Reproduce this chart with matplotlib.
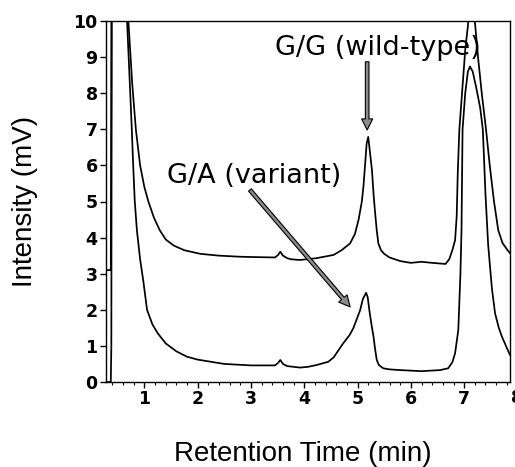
import matplotlib
matplotlib.use("Agg")
import matplotlib.pyplot as plt
import numpy as np

# chromatogram traces (min, mV)
gg_time = [0.28, 0.37, 0.385, 0.45, 0.60, 0.70, 0.77, 0.84, 0.92, 1.00, 1.075,
           1.18, 1.29, 1.40, 1.55, 1.75, 2.05, 2.40, 2.80, 3.08, 3.45, 3.51,
           3.55, 3.60, 3.68, 3.75, 3.92, 4.23, 4.55, 4.70, 4.86, 4.95, 5.02,
           5.08, 5.11, 5.14, 5.17, 5.20, 5.23, 5.27, 5.30, 5.33, 5.36, 5.39,
           5.44, 5.50, 5.60, 5.80, 6.00, 6.20, 6.40, 6.65, 6.72, 6.78, 6.83,
           6.86, 6.88, 6.91, 6.96, 7.02, 7.08, 7.14, 7.20, 7.26, 7.33, 7.41,
           7.48, 7.56, 7.64, 7.72, 7.80, 7.86]
gg_signal = [3.1, 3.1, 12.0, 14.0, 12.0, 10.0, 8.3, 7.0, 6.0, 5.4, 5.0,
             4.55, 4.2, 3.95, 3.78, 3.65, 3.55, 3.50, 3.47, 3.46, 3.45, 3.52,
             3.61, 3.50, 3.43, 3.40, 3.38, 3.43, 3.52, 3.65, 3.84, 4.10, 4.50,
             5.00, 5.41, 6.00, 6.60, 6.79, 6.40, 5.87, 5.20, 4.67, 4.20, 3.84,
             3.65, 3.55, 3.45, 3.35, 3.30, 3.33, 3.30, 3.27, 3.40, 3.66, 3.93,
             4.6, 5.8, 7.0, 8.0, 9.2, 10.0, 10.6, 10.0, 9.0, 8.0, 7.0,
             6.0, 5.0, 4.2, 3.85, 3.68, 3.57]

ga_time = [0.30, 0.37, 0.38, 0.39, 0.45, 0.60, 0.675, 0.72, 0.764, 0.79, 0.82,
           0.86, 0.92, 0.98, 1.05, 1.15, 1.25, 1.40, 1.60, 1.80, 2.00, 2.50,
           3.00, 3.45, 3.51, 3.55, 3.60, 3.68, 3.92, 4.07, 4.23, 4.45, 4.55,
           4.73, 4.85, 4.92, 5.00, 5.05, 5.10, 5.16, 5.19, 5.22, 5.26, 5.30,
           5.33, 5.36, 5.40, 5.48, 5.60, 5.80, 6.20, 6.55, 6.70, 6.78, 6.83,
           6.89, 6.93, 6.95, 6.97, 7.02, 7.07, 7.11, 7.16, 7.22, 7.30, 7.35,
           7.40, 7.45, 7.52, 7.58, 7.65, 7.71, 7.79, 7.86]
ga_signal = [0.0, 0.0, 1.0, 12.0, 14.0, 12.0, 10.0, 8.5, 7.0, 6.0, 5.0,
             4.2, 3.4, 2.8, 2.0, 1.6, 1.35, 1.07, 0.85, 0.70, 0.62, 0.50,
             0.46, 0.46, 0.53, 0.61, 0.50, 0.44, 0.40, 0.42, 0.47, 0.56, 0.68,
             1.07, 1.30, 1.49, 1.80, 2.00, 2.30, 2.47, 2.35, 2.00, 1.60, 1.25,
             0.90, 0.61, 0.47, 0.38, 0.35, 0.33, 0.30, 0.33, 0.38, 0.55, 0.80,
             1.44, 3.0, 4.2, 7.0, 8.0, 8.6, 8.74, 8.6, 8.2, 7.6, 7.0,
             5.2, 3.8, 2.6, 1.9, 1.5, 1.25, 0.98, 0.75]

x_ticks = [1, 2, 3, 4, 5, 6, 7]
y_ticks = list(range(0, 11))

label_font = ['Liberation Sans', 'DejaVu Sans']
note_font = ['DejaVu Sans']

fig = plt.figure(figsize=(5.15, 4.67), dpi=100)
ax = fig.add_axes([106 / 515, 1 - 382 / 467, 404 / 515, 361 / 467])

ax.plot(gg_time, gg_signal, color='black', lw=1.25)
ax.plot(ga_time, ga_signal, color='black', lw=1.25)

ax.set_xlim(0.28, 7.86)
ax.set_ylim(0, 10)
ax.set_xticks(x_ticks)
ax.set_xticks(np.arange(0.4, 7.9, 0.2), minor=True)
ax.set_yticks(y_ticks)
ax.tick_params(axis='both', which='major', direction='out', length=4, width=1, pad=2)
ax.tick_params(axis='x', which='minor', direction='out', length=2, width=0.8)
for lab in ax.get_xticklabels() + ax.get_yticklabels():
    lab.set_family(['DejaVu Sans'])
    lab.set_fontweight('bold')
    lab.set_fontsize(12.5)
# the 8 label sits past the frame, cut by the picture edge
ax.text(8, -0.02, '8', transform=ax.get_xaxis_transform(), ha='center', va='top',
        fontsize=12.5, fontweight='bold', family='DejaVu Sans', clip_on=False)

for s in ax.spines.values():
    s.set_linewidth(1.0)
    s.set_color('black')

ax.set_xlabel('Retention Time (min)', family=label_font, fontsize=20)
ax.xaxis.set_label_coords(0.488, -0.163)
ax.set_ylabel('Intensity (mV)', family=label_font, fontsize=20)
ax.yaxis.set_label_coords(-0.168, 0.5)

arrow = dict(facecolor='#8a8a8a', edgecolor='black', lw=0.8,
             width=2.6, headwidth=8, headlength=8, shrink=0)
ax.annotate('', xy=(5.18, 6.98), xytext=(5.18, 8.87), arrowprops=arrow)
ax.annotate('', xy=(4.86, 2.08), xytext=(2.98, 5.32), arrowprops=arrow)
ax.text(3.45, 9.06, 'G/G (wild-type)', family=note_font, fontsize=19.5,
        ha='left', va='baseline')
ax.text(1.42, 5.50, 'G/A (variant)', family=note_font, fontsize=19.5,
        ha='left', va='baseline')

fig.savefig('out.png', dpi=100)
